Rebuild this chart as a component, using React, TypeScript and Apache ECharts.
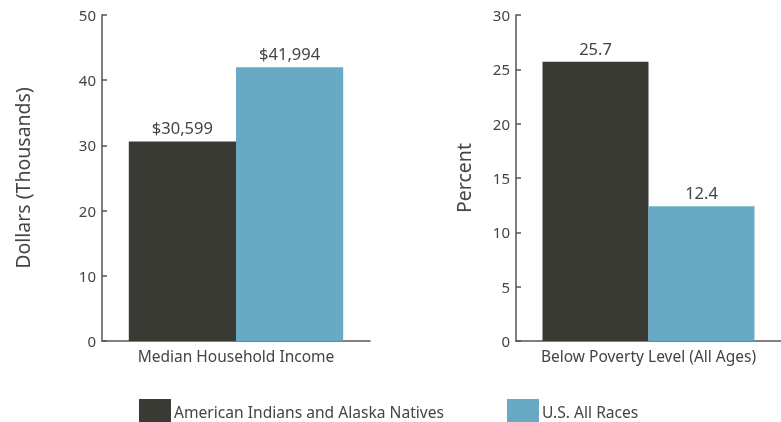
import React, { useEffect, useRef } from "react";
import * as echarts from "echarts";

const seriesNames = ["American Indians and Alaska Natives", "U.S. All Races"];
const incomeCategory = ["Median Household Income"];
const povertyCategory = ["Below Poverty Level (All Ages)"];
const incomeValues = [30.599, 41.994]; // thousands of dollars
const povertyValues = [25.7, 12.4]; // percent
const colors = ["#3a3a35", "#68aac3"];

const FONT = "'Noto Sans', 'Open Sans', sans-serif";
const TEXT = "#444";

export default function App() {
  const ref = useRef<HTMLDivElement>(null);
  useEffect(() => {
    document.body.style.margin = "0";
    const chart = echarts.init(ref.current!, null, { renderer: "svg" });
    const yAxisCommon = (name: string, nameGap: number, max: number, interval: number, gridIndex: number) => ({
      type: "value",
      gridIndex,
      min: 0,
      max,
      interval,
      name,
      nameLocation: "middle",
      nameGap,
      nameTextStyle: { color: TEXT, fontSize: 19.5, fontFamily: FONT },
      axisLine: { show: true, lineStyle: { color: "#555", width: 1.5 } },
      axisTick: { show: true, inside: true, length: 5, lineStyle: { color: "#555", width: 1.5 } },
      axisLabel: { color: TEXT, fontSize: 15, fontFamily: FONT, margin: 6 },
      splitLine: { show: false },
    });
    const xAxisCommon = (data: string[], gridIndex: number) => ({
      type: "category",
      gridIndex,
      data,
      axisLine: { show: true, lineStyle: { color: "#555", width: 1.5 } },
      axisTick: { show: false },
      axisLabel: { color: TEXT, fontSize: 15.5, fontFamily: FONT, margin: 7 },
    });
    const labelCommon = { show: true, position: "top", distance: 5, color: TEXT, fontSize: 16.5, fontFamily: FONT };
    const legendCommon = {
      padding: 0,
      itemWidth: 32,
      itemHeight: 25,
      icon: "rect",
      top: 399,
      textStyle: { color: TEXT, fontSize: 15.6, fontFamily: FONT, padding: [0, 0, 0, -2] },
    };
    chart.setOption({
      animation: false,
      grid: [
        { left: 102, top: 15, width: 268, height: 326 },
        { left: 516, top: 15, width: 268, height: 326 },
      ],
      xAxis: [xAxisCommon(incomeCategory, 0), xAxisCommon(povertyCategory, 1)],
      yAxis: [
        yAxisCommon("Dollars (Thousands)", 70, 50, 10, 0),
        yAxisCommon("Percent", 43, 30, 5, 1),
      ],
      legend: [
        { ...legendCommon, data: [seriesNames[0]], left: 139 },
        { ...legendCommon, data: [seriesNames[1]], left: 507 },
      ],
      series: [
        {
          type: "bar",
          name: seriesNames[0],
          xAxisIndex: 0,
          yAxisIndex: 0,
          data: [incomeValues[0]],
          itemStyle: { color: colors[0] },
          barGap: "0%",
          barCategoryGap: "20%",
          label: { ...labelCommon, formatter: (p: any) => "$" + Math.round(p.value * 1000).toLocaleString("en-US") },
        },
        {
          type: "bar",
          name: seriesNames[1],
          xAxisIndex: 0,
          yAxisIndex: 0,
          data: [incomeValues[1]],
          itemStyle: { color: colors[1] },
          barGap: "0%",
          barCategoryGap: "20%",
          label: { ...labelCommon, formatter: (p: any) => "$" + Math.round(p.value * 1000).toLocaleString("en-US") },
        },
        {
          type: "bar",
          name: seriesNames[0],
          xAxisIndex: 1,
          yAxisIndex: 1,
          data: [povertyValues[0]],
          itemStyle: { color: colors[0] },
          barGap: "0%",
          barCategoryGap: "20%",
          label: { ...labelCommon, formatter: (p: any) => p.value.toFixed(1) },
        },
        {
          type: "bar",
          name: seriesNames[1],
          xAxisIndex: 1,
          yAxisIndex: 1,
          data: [povertyValues[1]],
          itemStyle: { color: colors[1] },
          barGap: "0%",
          barCategoryGap: "20%",
          label: { ...labelCommon, formatter: (p: any) => p.value.toFixed(1) },
        },
      ],
    });
    return () => chart.dispose();
  }, []);
  return <div ref={ref} style={{ position: "fixed", left: 0, top: 0, width: 781, height: 422 }} />;
}
